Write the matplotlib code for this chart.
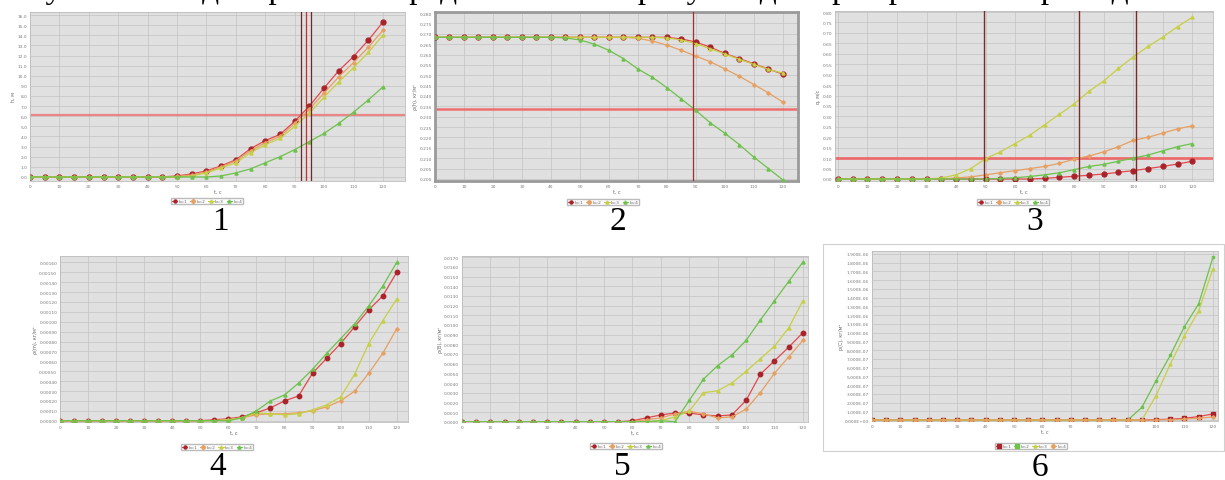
import matplotlib
matplotlib.use("Agg")
import matplotlib.pyplot as plt
from matplotlib.patches import Rectangle
from matplotlib.lines import Line2D

W, H = 1225, 481

# time axis shared by all six panels
t = [0, 5, 10, 15, 20, 25, 30, 35, 40, 45, 50, 55, 60, 65, 70, 75, 80, 85, 90, 95, 100, 105, 110, 115, 120]
x_ticks = [0, 10, 20, 30, 40, 50, 60, 70, 80, 90, 100, 110, 120]
series_labels = ["k=1", "k=2", "k=3", "k=4"]

# panel 1
p1_red = [0, 0, 0, 0, 0, 0, 0, 0, 0, 0, 0.1, 0.3, 0.6, 1.1, 1.7, 2.8, 3.6, 4.2, 5.5, 7.0, 8.8, 10.5, 11.9, 13.5, 15.3]
p1_orange = [0, 0, 0, 0, 0, 0, 0, 0, 0, 0, 0.05, 0.2, 0.5, 1.0, 1.6, 2.6, 3.4, 4.0, 5.3, 6.7, 8.3, 9.9, 11.3, 12.8, 14.5]
p1_yellow = [0, 0, 0, 0, 0, 0, 0, 0, 0, 0, 0.0, 0.1, 0.4, 0.9, 1.4, 2.4, 3.2, 3.8, 5.0, 6.3, 7.9, 9.4, 10.8, 12.3, 14.0]
p1_green = [0, 0, 0, 0, 0, 0, 0, 0, 0, 0, 0, 0, 0, 0.1, 0.4, 0.8, 1.4, 2.0, 2.7, 3.5, 4.3, 5.3, 6.4, 7.6, 8.9]

# panel 2
p2_red = [0.2683] * 17 + [0.2675, 0.2660, 0.2635, 0.2605, 0.2580, 0.2555, 0.2530, 0.2505]
p2_yellow = [0.2683] * 16 + [0.2680, 0.2670, 0.2652, 0.2628, 0.2602, 0.2577, 0.2552, 0.2528, 0.2510]
p2_orange = [0.2683] * 14 + [0.2678, 0.2665, 0.2645, 0.2620, 0.2592, 0.2565, 0.2530, 0.2495, 0.2455, 0.2415, 0.2370]
p2_green = [0.2683] * 9 + [0.2680, 0.2670, 0.2650, 0.2620, 0.2580, 0.2530, 0.2490, 0.2440, 0.2385, 0.2330,
                           0.2270, 0.2220, 0.2165, 0.2105, 0.2050, 0.1995]

# panel 3
p3_yellow = [0, 0, 0, 0, 0, 0, 0, 0.005, 0.02, 0.05, 0.098, 0.13, 0.17, 0.21, 0.26, 0.31, 0.36, 0.42, 0.47, 0.53,
             0.585, 0.635, 0.68, 0.73, 0.775]
p3_orange = [0, 0, 0, 0, 0, 0, 0, 0, 0.005, 0.01, 0.02, 0.03, 0.04, 0.05, 0.06, 0.075, 0.095, 0.11, 0.13, 0.155,
             0.185, 0.2, 0.22, 0.24, 0.255]
p3_green = [0, 0, 0, 0, 0, 0, 0, 0, 0, 0, 0, 0.003, 0.006, 0.012, 0.02, 0.03, 0.045, 0.06, 0.07, 0.085, 0.1,
            0.115, 0.135, 0.155, 0.17]
p3_red = [0, 0, 0, 0, 0, 0, 0, 0, 0, 0, 0, 0, 0, 0, 0.003, 0.008, 0.013, 0.018, 0.024, 0.032, 0.04, 0.05, 0.06,
          0.072, 0.085]

# panel 4
p4_red = [0, 0, 0, 0, 0, 0, 0, 0, 0, 0, 0, 0.00001, 0.00002, 0.00004, 0.00008, 0.00013, 0.0002, 0.00025, 0.00048,
          0.00063, 0.00078, 0.00095, 0.00112, 0.00126, 0.0015]
p4_green = [0, 0, 0, 0, 0, 0, 0, 0, 0, 0, 0, 0, 0, 0.00003, 0.0001, 0.0002, 0.00026, 0.00038, 0.00052, 0.00068,
            0.00083, 0.00098, 0.00116, 0.00136, 0.0016]
p4_yellow = [0, 0, 0, 0, 0, 0, 0, 0, 0, 0, 0, 0, 0.00001, 0.00003, 0.00008, 0.00007, 0.00006, 0.00007, 0.00011,
             0.00016, 0.00024, 0.00047, 0.00078, 0.00101, 0.00123]
p4_orange = [0, 0, 0, 0, 0, 0, 0, 0, 0, 0, 0, 0, 0.00001, 0.00003, 0.00006, 0.00007, 0.00007, 0.00008, 0.0001,
             0.00014, 0.0002, 0.0003, 0.00048, 0.00068, 0.00093]

# panel 5
p5_red = [0, 0, 0, 0, 0, 0, 0, 0, 0, 0, 0, 0, 0.0001, 0.0004, 0.0007, 0.0009, 0.0009, 0.0007, 0.0006, 0.0007,
          0.0022, 0.0049, 0.0063, 0.0077, 0.0092]
p5_orange = [0, 0, 0, 0, 0, 0, 0, 0, 0, 0, 0, 0, 0, 0.0002, 0.0004, 0.0008, 0.0011, 0.0008, 0.0004, 0.0005,
             0.0013, 0.003, 0.005, 0.0067, 0.0084]
p5_yellow = [0, 0, 0, 0, 0, 0, 0, 0, 0, 0, 0, 0, 0, 0, 0.0001, 0.0005, 0.0011, 0.003, 0.0032, 0.004, 0.0052,
             0.0065, 0.0078, 0.0097, 0.0125]
p5_green = [0, 0, 0, 0, 0, 0, 0, 0, 0, 0, 0, 0, 0, 0, 0.0001, 0.0, 0.0022, 0.0044, 0.0058, 0.0069, 0.0084,
            0.0105, 0.0125, 0.0145, 0.0165]

# panel 6
p6_green = [0] * 19 + [1.45e-7, 4.5e-7, 7.4e-7, 1.07e-6, 1.33e-6, 1.86e-6]
p6_yellow = [0] * 20 + [2.8e-7, 6.4e-7, 9.65e-7, 1.25e-6, 1.73e-6]
p6_red = [0] * 20 + [0.5e-8, 1e-8, 2e-8, 4e-8, 7e-8]
p6_orange = [0] * 21 + [0.5e-8, 1e-8, 2e-8, 3.5e-8]

RED, RED_LINE = "#a8242a", "#e4484d"
ORANGE, YELLOW, GREEN = "#e6a062", "#c6cf45", "#6cc24a"

plt.rcParams["font.family"] = ["DejaVu Sans"]
fig = plt.figure(figsize=(W / 100, H / 100), dpi=100)
fig.patch.set_facecolor("white")


def px_axes(x0, y0, x1, y1):
    return fig.add_axes([x0 / W, 1 - y1 / H, (x1 - x0) / W, (y1 - y0) / H])


def draw_panel(ax, curves, xlim, ylim, yticks, fmt, ylabel, legend_xy, frame="#bdbdbd", frame_lw=0.6):
    ax.set_facecolor("#e0e0e0")
    for yv, col, mk, ms, lc in curves:
        ax.plot(t, yv, color=lc, lw=0.9, marker=mk, ms=ms, mfc=col, mec=col, zorder=3)
    ax.set_xlim(*xlim)
    ax.set_ylim(*ylim)
    ax.set_xticks(x_ticks)
    ax.set_xticklabels([str(v) for v in x_ticks])
    ax.set_yticks(yticks)
    ax.set_yticklabels([fmt.format(v) for v in yticks])
    ax.tick_params(labelsize=3.2, colors="#7a7a7a", length=0, pad=2)
    ax.grid(True, color="#c2c2c2", lw=0.5)
    ax.set_axisbelow(True)
    for s in ax.spines.values():
        s.set_color(frame)
        s.set_linewidth(frame_lw)
    ax.set_xlabel("t, c", fontsize=3.5, color="#666666", labelpad=1)
    ax.set_ylabel(ylabel, fontsize=3.5, color="#666666", labelpad=1)
    handles = [Line2D([], [], color=lc, marker=mk, ms=2.2, mfc=col, mec=col, lw=0.8)
               for _, col, mk, _, lc in curves]
    ax.legend(handles, series_labels, loc="center", ncol=4, fontsize=3.2,
              bbox_to_anchor=(legend_xy[0] / W, 1 - legend_xy[1] / H), bbox_transform=fig.transFigure,
              frameon=True, fancybox=False, edgecolor="#aaaaaa", borderpad=0.3, handlelength=1.2,
              handletextpad=0.3, columnspacing=0.6, labelcolor="#666666")


# white frame around panel 6
fig.add_artist(Rectangle((823 / W, 1 - 452 / H), (1224 - 823) / W, (452 - 245) / H, transform=fig.transFigure,
                         facecolor="white", edgecolor="#d0d0d0", lw=0.8, zorder=0))

# panel 1
ax1 = px_axes(30, 13, 405, 182)
draw_panel(ax1, [(p1_red, RED, "o", 3.5, RED_LINE), (p1_orange, ORANGE, "D", 1.8, ORANGE),
                 (p1_yellow, YELLOW, "^", 2.2, YELLOW), (p1_green, GREEN, "^", 2.2, GREEN)],
           (0, 127.5), (-0.4, 16.3), list(range(0, 17)), "{:.1f}", "h, м", (207, 202))
ax1.axhline(6.1, color="#f07070", lw=1.6, alpha=0.8, zorder=2)
for xv, c in zip([92.3, 93.7, 95.7], ["#6b2a2a", "#c03030", "#6b2a2a"]):
    ax1.axvline(xv, color=c, lw=0.9, zorder=4)

# panel 2
ax2 = px_axes(435, 13, 798, 182)
yt2 = [0.200 + 0.005 * i for i in range(17)]
draw_panel(ax2, [(p2_red, RED, "o", 3.5, RED_LINE), (p2_orange, ORANGE, "D", 1.8, ORANGE),
                 (p2_yellow, YELLOW, "^", 2.2, YELLOW), (p2_green, GREEN, "^", 2.2, GREEN)],
           (0, 125.2), (0.199, 0.2805), yt2, "{:.3f}", "ρ(h), кг/м³", (603, 203), frame="#9a9a9a", frame_lw=2.0)
ax2.axhline(0.2337, color="#f05a5a", lw=1.8, alpha=0.85, zorder=2)
ax2.axvline(89, color="#a03030", lw=0.9, zorder=4)

# panel 3
ax3 = px_axes(835, 12, 1213, 182)
yt3 = [0.05 * i for i in range(17)]
draw_panel(ax3, [(p3_red, RED, "o", 3.5, RED_LINE), (p3_orange, ORANGE, "D", 1.8, ORANGE),
                 (p3_yellow, YELLOW, "^", 2.2, YELLOW), (p3_green, GREEN, "^", 2.2, GREEN)],
           (-1, 127), (-0.0096, 0.805), yt3, "{:.2f}", "q, м/с", (1013, 203))
ax3.axhline(0.1, color="#f05a5a", lw=2.0, alpha=0.85, zorder=2)
for xv in [49.6, 81.5, 100.8]:
    ax3.axvline(xv, color="#7a2a2a", lw=1.0, zorder=4)

# panel 4
ax4 = px_axes(60, 257, 408, 423)
yt4 = [0.0001 * i for i in range(17)]
draw_panel(ax4, [(p4_red, RED, "o", 3.2, RED_LINE), (p4_orange, ORANGE, "D", 1.8, ORANGE),
                 (p4_yellow, YELLOW, "^", 2.2, YELLOW), (p4_green, GREEN, "^", 2.2, GREEN)],
           (0, 124), (-0.000013, 0.001664), yt4, "{:.5f}", "ρ(m), кг/м³", (217, 448))

# panel 5
ax5 = px_axes(462, 257, 808, 423)
yt5 = [0.001 * i for i in range(18)]
draw_panel(ax5, [(p5_red, RED, "o", 3.2, RED_LINE), (p5_orange, ORANGE, "D", 1.8, ORANGE),
                 (p5_yellow, YELLOW, "^", 2.2, YELLOW), (p5_green, GREEN, "^", 2.2, GREEN)],
           (0, 121.8), (-0.00003, 0.01713), yt5, "{:.4f}", "ρ(B), кг/м³", (626, 447))

# panel 6
ax6 = px_axes(872, 252, 1218, 422)
yt6 = [1e-7 * i for i in range(20)]
draw_panel(ax6, [(p6_red, RED, "s", 2.8, RED_LINE), (p6_green, GREEN, "s", 2.0, GREEN),
                 (p6_yellow, YELLOW, "^", 2.0, YELLOW), (p6_orange, ORANGE, "D", 1.8, ORANGE)],
           (0, 121.8), (-1.1e-8, 1.934e-6), yt6, "{:.3E}", "p(C), кг/м³", (1031, 447))

# panel numbers
for num, (cx, cy) in zip(["1", "2", "3", "4", "5", "6"],
                         [(220, 222), (618, 222), (1035, 222), (218, 467), (622, 467), (1040, 468)]):
    fig.text(cx / W, 1 - cy / H, num, ha="center", va="center", fontsize=24, family="Liberation Serif")

# caption line of the page above, only its lower edge falls inside the picture
fig.text(0.0, 1 + 2 / H,
         "Результаты моделирования представлены на рисунке для трёх режимов при заданных параметрах процесса",
         ha="left", va="baseline", fontsize=24, family="Liberation Serif")

fig.savefig("out.png", dpi=100)
